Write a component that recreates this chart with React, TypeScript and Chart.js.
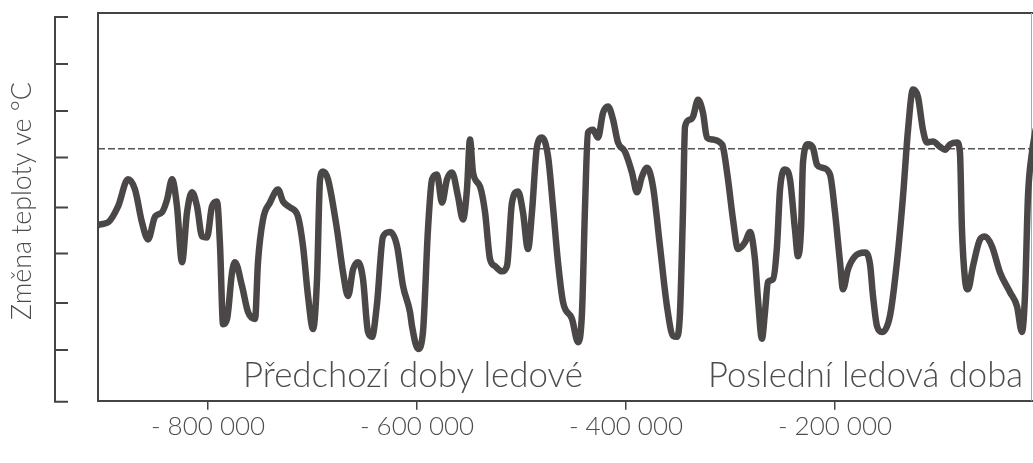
import { useEffect, useRef } from 'react';
import { Chart, registerables } from 'chart.js';

Chart.register(...registerables);

// Time in thousands of years (negative = before present)
const years = [
  -905.3, -903.4, -895.7, -886.1, -876.6, -869.9, -863.2, -857.4, -850.7, -844.0,
  -839.2, -834.4, -829.7, -824.9, -820.1, -815.3, -810.5, -805.7, -801.0, -796.2,
  -791.4, -788.5, -785.6, -781.8, -777.0, -774.2, -767.5, -761.7, -755.0, -752.2,
  -747.4, -740.7, -733.0, -728.2, -721.5, -713.9, -709.1, -704.3, -699.5, -695.7,
  -692.8, -690.0, -685.2, -676.6, -670.8, -666.0, -661.2, -656.5, -651.7, -646.9,
  -643.1, -638.3, -632.5, -625.8, -619.1, -613.4, -606.7, -604.8, -599.0, -594.3,
  -589.5, -585.6, -580.9, -576.1, -571.3, -566.5, -560.8, -556.0, -552.2, -549.3,
  -546.4, -539.7, -534.9, -530.1, -525.4, -518.7, -513.9, -509.1, -503.3, -498.6,
  -493.8, -490.0, -485.2, -480.4, -474.6, -469.9, -465.1, -460.3, -451.7, -445.9,
  -442.1, -439.2, -436.4, -431.6, -426.8, -422.0, -417.2, -412.4, -407.7, -401.0,
  -394.3, -389.5, -384.7, -379.9, -374.2, -367.5, -360.8, -355.0, -351.2, -348.3,
  -345.5, -343.5, -338.8, -335.9, -331.1, -326.3, -322.5, -316.7, -310.0, -307.2,
  -302.4, -297.6, -292.8, -286.1, -281.3, -276.6, -273.7, -269.9, -267.0, -264.1,
  -259.3, -255.5, -252.6, -247.8, -243.1, -238.3, -235.4, -232.5, -230.6, -225.8,
  -221.1, -217.2, -212.4, -204.8, -200.0, -195.2, -192.3, -187.6, -180.9, -171.3,
  -166.5, -163.6, -159.8, -155.0, -147.4, -140.7, -134.9, -130.1, -125.4, -120.6,
  -115.8, -112.0, -106.2, -99.5, -94.7, -89.9, -83.3, -80.4, -78.5, -75.6,
  -72.7, -67.9, -61.2, -56.5, -49.8, -42.1, -32.5, -25.8, -21.1, -18.2,
  -15.3, -11.5, -8.0,
];

// Temperature change (°C relative to the dashed reference level)
const tempChange = [
  -1.58, -1.56, -1.52, -1.19, -0.63, -0.84, -1.52, -1.87, -1.40, -1.31,
  -1.05, -0.63, -1.19, -2.34, -1.31, -0.90, -1.19, -1.81, -1.83, -1.19,
  -1.09, -2.01, -3.62, -3.51, -2.55, -2.34, -2.83, -3.37, -3.51, -2.34,
  -1.46, -1.11, -0.84, -1.09, -1.21, -1.40, -2.01, -3.04, -3.72, -2.69,
  -0.63, -0.47, -0.63, -1.66, -2.55, -3.04, -2.49, -2.34, -2.69, -3.78,
  -3.88, -3.20, -1.81, -1.72, -2.01, -2.83, -3.37, -3.66, -4.13, -3.78,
  -1.66, -0.63, -0.53, -1.11, -0.63, -0.49, -0.98, -1.46, -0.84, 0.19,
  -0.49, -0.78, -1.31, -2.28, -2.42, -2.53, -2.42, -1.11, -0.88, -1.31,
  -2.07, -1.31, 0.04, 0.23, -0.16, -1.19, -2.34, -3.16, -3.51, -3.99,
  -3.37, -1.19, 0.33, 0.39, 0.23, 0.74, 0.87, 0.60, 0.13, -0.06,
  -0.49, -0.90, -0.57, -0.39, -0.78, -2.01, -3.25, -3.86, -3.88, -3.37,
  -1.31, 0.46, 0.60, 0.66, 1.01, 0.74, 0.23, 0.19, 0.13, 0.04,
  -0.63, -1.46, -2.07, -1.93, -1.72, -2.28, -3.10, -3.92, -3.37, -2.75,
  -2.69, -2.01, -0.84, -0.43, -0.63, -1.66, -2.22, -1.66, -0.28, 0.09,
  0.02, -0.33, -0.39, -0.53, -1.31, -2.34, -2.90, -2.49, -2.22, -2.14,
  -2.38, -3.04, -3.66, -3.78, -3.45, -2.34, -0.98, 0.39, 1.22, 1.07,
  0.39, 0.13, 0.15, 0.04, -0.02, 0.09, 0.13, -0.08, -1.66, -2.69,
  -2.90, -2.42, -1.87, -1.81, -2.01, -2.55, -2.96, -3.25, -3.78, -3.04,
  -0.98, -0.08, 0.39,
];

const xTickValues = [-800, -600, -400, -200];
const yTickValues = [-5.22, -4.15, -3.18, -2.16, -1.21, -0.18, 0.78, 1.75, 2.72];
const referenceLevel = 0;
const yAxisTitle = 'Změna teploty ve °C';
const periodLabels = ['Předchozí doby ledové', 'Poslední ledová doba'];
const periodLabelYears = [-766.5, -321.5];

const FONT = 'Lato, "Open Sans", sans-serif';
const TEXT_COLOR = '#4d4d4d';

function fitFont(ctx: CanvasRenderingContext2D, text: string, width: number, weight: string) {
  ctx.font = `${weight} 20px ${FONT}`;
  const w = ctx.measureText(text).width;
  const size = (20 * width) / w;
  ctx.font = `${weight} ${size}px ${FONT}`;
}

const framePlugin = {
  id: 'frame',
  beforeDatasetsDraw(chart: any) {
    const { ctx, chartArea: a, scales } = chart;
    const y = scales.y;
    const x = scales.x;
    ctx.save();

    // reference dashed line
    const yp = y.getPixelForValue(referenceLevel);
    ctx.strokeStyle = '#555';
    ctx.lineWidth = 1.5;
    ctx.setLineDash([7, 3]);
    ctx.beginPath();
    ctx.moveTo(a.left, yp);
    ctx.lineTo(a.right, yp);
    ctx.stroke();
    ctx.setLineDash([]);

    // frame (left, top, right)
    ctx.strokeStyle = '#444';
    ctx.lineWidth = 2;
    ctx.beginPath();
    ctx.moveTo(a.left, a.bottom);
    ctx.lineTo(a.left, a.top);
    ctx.lineTo(a.right, a.top);
    ctx.stroke();
    ctx.strokeStyle = '#aaa';
    ctx.lineWidth = 1;
    ctx.beginPath();
    ctx.moveTo(a.right - 1.5, a.top);
    ctx.lineTo(a.right - 1.5, a.bottom);
    ctx.stroke();

    // detached left axis with inward ticks
    const ax = 55;
    ctx.strokeStyle = '#444';
    ctx.lineWidth = 2;
    ctx.beginPath();
    const topP = y.getPixelForValue(yTickValues[yTickValues.length - 1]);
    const botP = y.getPixelForValue(yTickValues[0]);
    ctx.moveTo(ax, topP);
    ctx.lineTo(ax, botP);
    for (const t of yTickValues) {
      const p = y.getPixelForValue(t);
      ctx.moveTo(ax - 1, p);
      ctx.lineTo(ax + 13, p);
    }
    ctx.stroke();

    // axis title
    ctx.fillStyle = TEXT_COLOR;
    fitFont(ctx, yAxisTitle, 238, '300');
    ctx.translate(31, 201);
    ctx.rotate(-Math.PI / 2);
    ctx.textAlign = 'center';
    ctx.textBaseline = 'alphabetic';
    ctx.fillText(yAxisTitle, 0, 0);
    ctx.setTransform(1, 0, 0, 1, 0, 0);

    // period labels
    const widths = [340, 315];
    ctx.textAlign = 'left';
    ctx.textBaseline = 'alphabetic';
    periodLabels.forEach((txt, i) => {
      fitFont(ctx, txt, widths[i], '300');
      ctx.fillText(txt, x.getPixelForValue(periodLabelYears[i]), 387);
    });

    ctx.restore();
  },
};

function formatYear(v: number) {
  const n = Math.round(Math.abs(v) * 1000);
  const s = String(n).replace(/\B(?=(\d{3})+(?!\d))/g, ' ');
  return (v < 0 ? '- ' : '') + s;
}

export default function App() {
  const ref = useRef<HTMLCanvasElement>(null);

  useEffect(() => {
    if (!ref.current) return;
    const data = years.map((yr, i) => ({ x: yr, y: tempChange[i] }));
    const chart = new Chart(ref.current, {
      type: 'line',
      data: {
        datasets: [
          {
            data,
            borderColor: '#4b4747',
            borderWidth: 6.5,
            pointRadius: 0,
            fill: false,
            cubicInterpolationMode: 'monotone',
            borderJoinStyle: 'round',
            borderCapStyle: 'round',
          },
        ],
      },
      options: {
        animation: false,
        responsive: false,
        events: [],
        layout: { padding: { left: 98, top: 13, right: 0, bottom: 20 } },
        plugins: { legend: { display: false }, tooltip: { enabled: false } },
        scales: {
          x: {
            type: 'linear',
            min: -905.3,
            max: -10.5,
            afterBuildTicks: (scale: any) => {
              scale.ticks = xTickValues.map((v) => ({ value: v }));
            },
            ticks: {
              callback: (v: any) => formatYear(Number(v)),
              color: TEXT_COLOR,
              font: { family: FONT, size: 26, weight: '300' },
              padding: 1,
              maxRotation: 0,
              autoSkip: false,
            },
            grid: { drawOnChartArea: false, tickLength: 9, color: '#444', lineWidth: 1.5 },
            border: { display: true, color: '#444', width: 2 },
          },
          y: {
            type: 'linear',
            display: false,
            min: -5.2,
            max: 2.8,
          },
        },
      },
      plugins: [framePlugin],
    });
    return () => chart.destroy();
  }, []);

  return (
    <div style={{ position: 'absolute', left: 0, top: 0, width: 1033, height: 463, background: '#fff' }}>
      <canvas ref={ref} width={1033} height={463} />
    </div>
  );
}
